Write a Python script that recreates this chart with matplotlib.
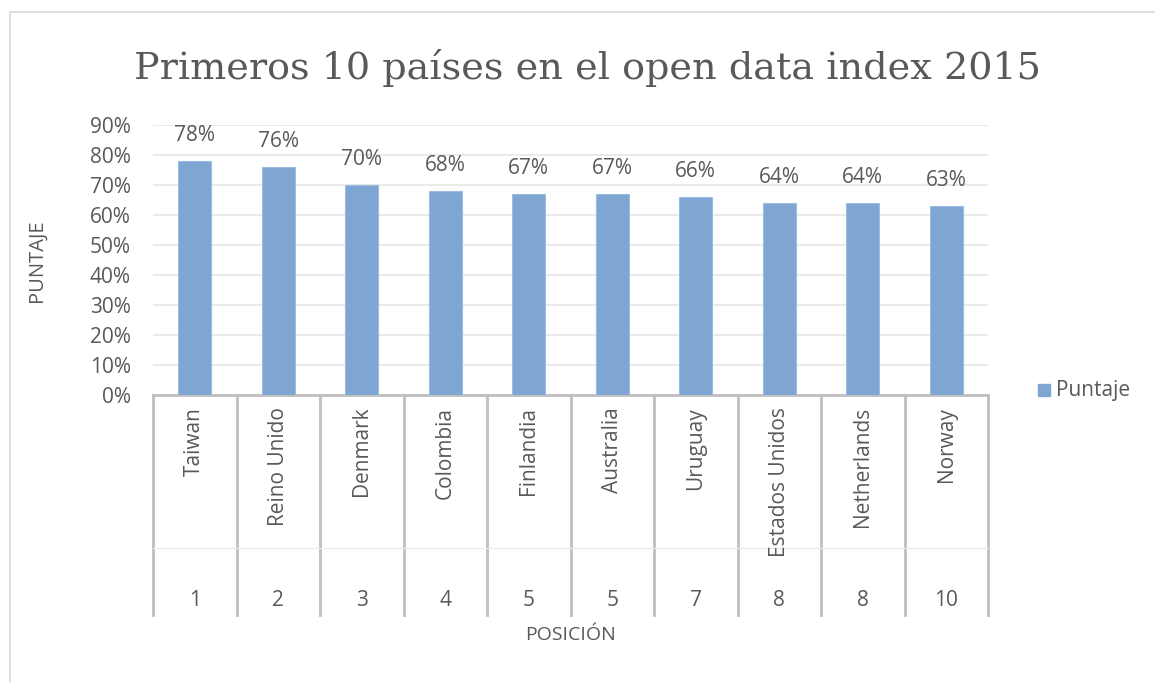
import matplotlib.pyplot as plt
import matplotlib.transforms as mtransforms
from matplotlib.patches import Rectangle

paises = ["Taiwan", "Reino Unido", "Denmark", "Colombia", "Finlandia",
          "Australia", "Uruguay", "Estados Unidos", "Netherlands", "Norway"]
posiciones = ["1", "2", "3", "4", "5", "5", "7", "8", "8", "10"]
puntaje = [0.78, 0.76, 0.70, 0.68, 0.67, 0.67, 0.66, 0.64, 0.64, 0.63]
yticks = [0, 0.1, 0.2, 0.3, 0.4, 0.5, 0.6, 0.7, 0.8, 0.9]

W, H = 1155, 682
gris = "#595959"
azul = "#7fa6d3"
linea = "#bfbfbf"
plt.rcParams["font.family"] = ["Open Sans", "DejaVu Sans"]
fs = 15

fig = plt.figure(figsize=(W / 100, H / 100), dpi=100)

# marco del grafico
fig.patches.append(Rectangle((10 / W, -0.1), 1.2, 1 - 12 / H + 0.1,
                             transform=fig.transFigure, fill=False,
                             edgecolor="#d9d9d9", linewidth=1.2))

x0, x1 = 153, 988
y0, ytop = 395, 125
ax = fig.add_axes([x0 / W, 1 - y0 / H, (x1 - x0) / W, (y0 - ytop) / H])

n = len(paises)
xs = list(range(n))
ax.bar(xs, puntaje, width=0.4, color=azul, edgecolor="#9dbde0",
       linewidth=0.8, zorder=3)
ax.set_xlim(-0.5, n - 0.5)
ax.set_ylim(0, 0.9)
ax.set_yticks(yticks)
ax.set_yticklabels([f"{int(round(v * 100))}%" for v in yticks])
ax.tick_params(axis="y", length=0, labelsize=fs, labelcolor=gris, pad=16)
ax.tick_params(axis="x", length=0, labelbottom=False)
ax.grid(axis="y", color="#e6e6e6", linewidth=1.2, zorder=0)
for s in ["top", "right", "left"]:
    ax.spines[s].set_visible(False)
ax.spines["bottom"].set_color(linea)
ax.spines["bottom"].set_linewidth(2)

for xi, v in zip(xs, puntaje):
    ax.annotate(f"{int(round(v * 100))}%", (xi, v), xytext=(0, 11),
                textcoords="offset points", ha="center", va="bottom",
                fontsize=fs, color=gris)

# eje de categorias en dos niveles
tr = mtransforms.blended_transform_factory(ax.transData, ax.transAxes)
h = y0 - ytop
y_fin = -(615 - y0) / h
y_med = -(548 - y0) / h
for k in range(n + 1):
    ax.plot([k - 0.5, k - 0.5], [0, y_fin], transform=tr, color=linea,
            linewidth=2, clip_on=False)
ax.plot([-0.5, n - 0.5], [y_med, y_med], transform=tr, color="#ececec",
        linewidth=1, clip_on=False)
for xi, p, pos in zip(xs, paises, posiciones):
    ax.text(xi, -(407 - y0) / h, p, transform=tr, rotation=90, ha="center",
            va="top", fontsize=fs, color=gris)
    ax.text(xi, -(600 - y0) / h, pos, transform=tr, ha="center",
            va="center", fontsize=fs, color=gris)

fig.text((x0 + x1) / 2 / W, 1 - 635 / H, "POSICIÓN", ha="center",
         va="center", fontsize=14, color=gris)
fig.text(37 / W, 1 - 261 / H, "PUNTAJE", rotation=90, ha="center",
         va="center", fontsize=14.5, color=gris)
titulo = fig.text(588 / W, 1 - 68 / H,
                  "Primeros 10 países en el open data index 2015",
                  ha="center", va="center", fontsize=26, color=gris,
                  family=["DejaVu Serif"])
# ajustar el titulo al ancho del original (~905 px)
r = fig.canvas.get_renderer()
ancho = titulo.get_window_extent(r).width
titulo.set_fontsize(26 * 905 / ancho)

# leyenda
fig.patches.append(Rectangle((1038 / W, 1 - 396 / H), 12 / W, 12 / H,
                             transform=fig.transFigure, color=azul))
fig.text(1056 / W, 1 - 390 / H, "Puntaje", ha="left", va="center",
         fontsize=fs, color=gris)

fig.savefig("out.png", dpi=100)
